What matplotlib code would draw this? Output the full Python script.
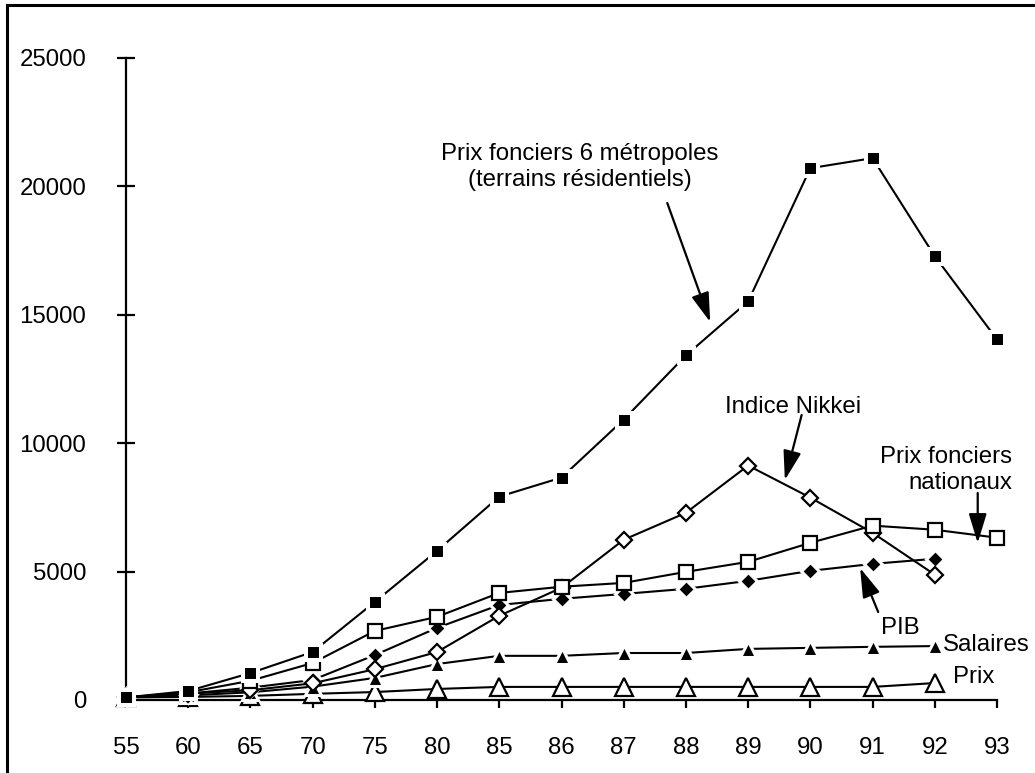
import numpy as np
import matplotlib
matplotlib.use("Agg")
import matplotlib.pyplot as plt
from matplotlib.lines import Line2D

plt.rcParams['font.family'] = ['Liberation Sans', 'DejaVu Sans']

years = ['55', '60', '65', '70', '75', '80', '85', '86', '87', '88', '89', '90', '91', '92', '93']
metropoles = [100, 350, 1050, 1870, 3820, 5810, 7920, 8660, 10920, 13420, 15520, 20710, 21100, 17280, 14040]
nationaux = [100, 300, 750, 1440, 2690, 3240, 4170, 4410, 4560, 4990, 5380, 6120, 6790, 6630, 6320]
nikkei = [100, 250, 380, 650, 1200, 1870, 3280, 4370, 6240, 7290, 9130, 7880, 6510, 4880, np.nan]
pib = [100, 250, 480, 780, 1750, 2810, 3700, 3940, 4130, 4330, 4640, 5030, 5300, 5500, np.nan]
salaires = [100, 180, 300, 520, 860, 1400, 1720, 1720, 1830, 1830, 1990, 2030, 2070, 2100, np.nan]
prix = [100, 120, 160, 240, 310, 430, 510, 510, 510, 510, 510, 510, 510, 660, np.nan]

FS = 17.3
x = np.arange(len(years))

fig = plt.figure(figsize=(10.35, 7.73), dpi=100)
ax = fig.add_axes([126 / 1035, 73 / 773, (997 - 126) / 1035, (700 - 58) / 773])

lw = 1.5
# filled markers get a white halo so lines stop short of them
ax.plot(x, prix, color='black', lw=lw, marker='^', ms=13, mfc='white', mec='black', mew=1.6, clip_on=False, zorder=3)
ax.plot(x, salaires, color='black', lw=lw, marker='^', ms=11, mfc='black', mec='white', mew=2.2, clip_on=False, zorder=3)
ax.plot(x, pib, color='black', lw=lw, marker='D', ms=8.8, mfc='black', mec='white', mew=2.2, clip_on=False, zorder=3)
ax.plot(x, nikkei, color='black', lw=lw, marker='D', ms=8.2, mfc='white', mec='black', mew=1.6, clip_on=False, zorder=3)
ax.plot(x, nationaux, color='black', lw=lw, marker='s', ms=10, mfc='white', mec='black', mew=1.6, clip_on=False, zorder=3)
ax.plot(x, metropoles, color='black', lw=lw, marker='s', ms=10.8, mfc='black', mec='white', mew=2.9, clip_on=False, zorder=3)

ax.set_xlim(0, 14)
ax.set_ylim(0, 25000)
ax.set_xticks(x)
ax.set_xticklabels(years, fontsize=FS)
ax.set_yticks([0, 5000, 10000, 15000, 20000, 25000])
ax.set_yticklabels(['0', '5000', '10000', '15000', '20000', '25000'], fontsize=FS)

for s in ['top', 'right']:
    ax.spines[s].set_visible(False)
ax.spines['left'].set_linewidth(1.6)
ax.spines['bottom'].set_linewidth(1.6)
ax.tick_params(axis='y', direction='inout', length=13, width=1.6, pad=22)
ax.tick_params(axis='x', direction='out', length=6, width=1.6, pad=21)

arrow = dict(arrowstyle='-|>,head_length=1.8,head_width=0.55', color='black', lw=1.6, shrinkA=0, shrinkB=0)

ax.text(7.30, 20755, 'Prix fonciers 6 métropoles\n(terrains résidentiels)', fontsize=FS,
        ha='center', va='center', linespacing=1.25)
ax.annotate('', xy=(9.39, 14720), xytext=(8.70, 19354), arrowprops=arrow)

ax.text(10.72, 11410, 'Indice Nikkei', fontsize=FS, ha='center', va='center')
ax.annotate('', xy=(10.59, 8567), xytext=(10.86, 11098), arrowprops=arrow)

ax.text(13.18, 8956, 'Prix fonciers\nnationaux', fontsize=FS, ha='center', va='center',
        linespacing=1.25, multialignment='right')
ax.annotate('', xy=(13.69, 6114), xytext=(13.69, 8061), arrowprops=arrow)

ax.text(12.44, 2804, 'PIB', fontsize=FS, ha='center', va='center')
ax.annotate('', xy=(11.80, 5140), xytext=(12.09, 3427), arrowprops=arrow)

ax.text(13.13, 2142, 'Salaires', fontsize=FS, ha='left', va='center')
ax.text(13.29, 896, 'Prix', fontsize=FS, ha='left', va='center')

# frame of the original picture: top and left edges only
fig.add_artist(Line2D([7 / 1035, 7 / 1035], [0, 1 - 5 / 773], color='black', lw=2.2))
fig.add_artist(Line2D([7 / 1035, 1], [1 - 5 / 773, 1 - 5 / 773], color='black', lw=2.2))

fig.savefig('out.png', dpi=100)
